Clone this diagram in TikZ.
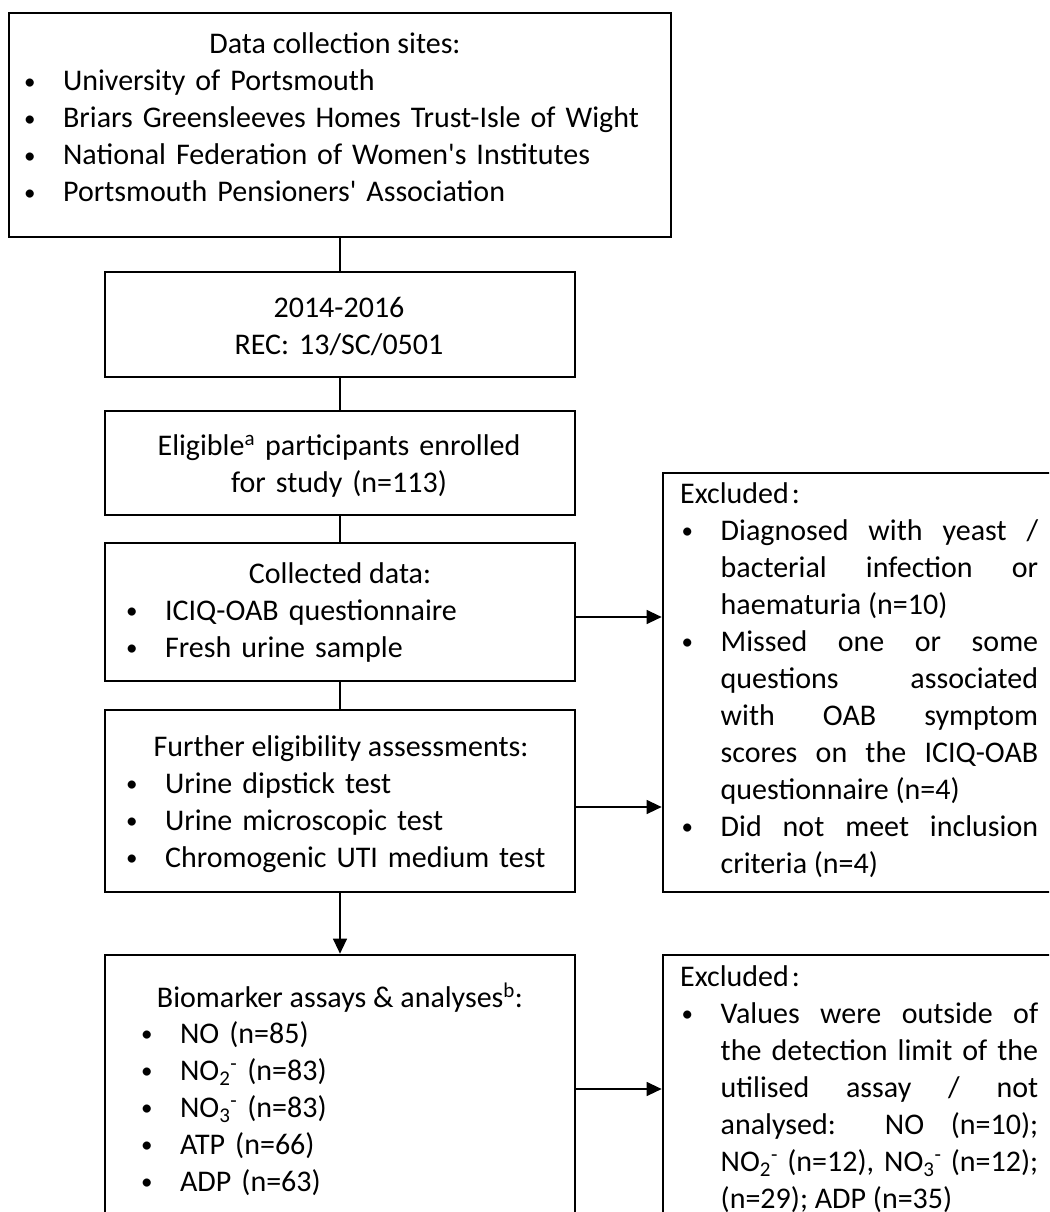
\documentclass[tikz,border=0pt]{standalone}
\usepackage{fontspec}
\setmainfont{Carlito}
\usetikzlibrary{arrows.meta}
\newcommand{\blt}{\makebox[40.5pt][l]{\hspace{1.5pt}\raisebox{1.5pt}{\fontsize{23}{23}\selectfont\textbullet}}}
\newcommand{\exitem}{\par\hangindent=40.5pt\hangafter=1\noindent\blt}
\begin{document}
\begin{tikzpicture}[x=1pt,y=-1pt,
		box/.style={draw,line width=2.7pt,inner sep=0pt},
		txt/.style={inner sep=0pt,font=\fontsize{30}{37}\selectfont},
		link/.style={line width=1.3pt},
		arr/.style={link,-{Triangle[length=15pt,width=14pt]}}]
		\useasboundingbox (0,0) rectangle (1049,1212);
		\clip (0,0) rectangle (1049,1212);
		% main column
		\node[box,minimum width=662,minimum height=224] (sites) at (340,125) {};
		\node[box,minimum width=470,minimum height=105] (period) at (340,324.5) {};
		\node[box,minimum width=470,minimum height=104] (enrolled) at (340,463) {};
		\node[box,minimum width=470,minimum height=138] (collected) at (340,612) {};
		\node[box,minimum width=470,minimum height=182] (further) at (340,801) {};
		\node[box,minimum width=470,minimum height=295] (biomarker) at (340,1102.5) {};
		% excluded column
		\node[box,minimum width=402,minimum height=419] (excl1) at (864,682.5) {};
		\node[box,minimum width=402,minimum height=295] (excl2) at (864,1102.5) {};

		\node[txt,anchor=base] (sitesh) at (335,54) {Data collection sites:};
		\node[txt,anchor=base west,text width=640,align=left] (sitesl) at (22.4,91) {\blt University of Portsmouth\\
			\blt Briars Greensleeves Homes Trust-Isle of Wight\\
			\blt National Federation of Women\textquotesingle s Institutes\\
			\blt Portsmouth Pensioners\textquotesingle\ Association};
		\node[txt,anchor=base,text width=460,align=center] (periodt) at (339,317) {2014-2016\\REC: 13/SC/0501};
		\node[txt,anchor=base,text width=460,align=center] (enrolledt) at (339,455) {Eligible\textsuperscript{a} participants enrolled\\for study (n=113)};
		\node[txt,anchor=base] (collectedh) at (340,583) {Collected data:};
		\node[txt,anchor=base west,text width=440,align=left] (collectedl) at (124.4,620) {\blt ICIQ-OAB questionnaire\\
			\blt Fresh urine sample};
		\node[txt,anchor=base] (furtherh) at (341,756) {Further eligibility assessments:};
		\node[txt,anchor=base west,text width=440,align=left] (furtherl) at (124.4,793) {\blt Urine dipstick test\\
			\blt Urine microscopic test\\
			\blt Chromogenic UTI medium test};
		\node[txt,anchor=base] (biomarkerh) at (340,1007) {Biomarker assays \& analyses\textsuperscript{b}:};
		\node[txt,anchor=base west,text width=420,align=left] (biomarkerl) at (139.4,1043) {\blt NO (n=85)\\
			\blt NO\textsubscript{2}\textsuperscript{-} (n=83)\\
			\blt NO\textsubscript{3}\textsuperscript{-} (n=83)\\
			\blt ATP (n=66)\\
			\blt ADP (n=63)};

		\node[txt,anchor=base west,text width=358,align=justify] (excl1t) at (680,503) {\tolerance=9999\hyphenpenalty=10000
			Excluded\hspace{3pt}:
			\exitem Diagnosed with yeast /\linebreak bacterial infection or\linebreak haematuria (n=10)
			\exitem Missed one or some\linebreak questions associated\linebreak with OAB symptom\linebreak scores on the ICIQ-OAB\linebreak questionnaire (n=4)
			\exitem Did not meet inclusion\linebreak criteria (n=4)\par};
		\node[txt,anchor=base west,text width=358,align=justify] (excl2t) at (680,986) {\tolerance=9999\hyphenpenalty=10000
			Excluded\hspace{3pt}:
			\exitem Values were outside of\linebreak the detection limit of the\linebreak utilised assay / not\linebreak analysed: NO (n=10);\linebreak NO\textsubscript{2}\textsuperscript{-} (n=12), NO\textsubscript{3}\textsuperscript{-} (n=12);\linebreak (n=29); ADP (n=35)\par};

		% connectors
		\draw[link] (sites) -- (period);
		\draw[link] (period) -- (enrolled);
		\draw[link] (enrolled) -- (collected);
		\draw[link] (collected) -- (further);
		\draw[arr] (further) -- (biomarker);
		\coordinate (c1) at (575,617);
		\coordinate (c2) at (575,807);
		\coordinate (c3) at (575,1089);
		\draw[arr] (c1) -- (c1 -| excl1.west);
		\draw[arr] (c2) -- (c2 -| excl1.west);
		\draw[arr] (c3) -- (c3 -| excl2.west);
	\end{tikzpicture}
\end{document}
